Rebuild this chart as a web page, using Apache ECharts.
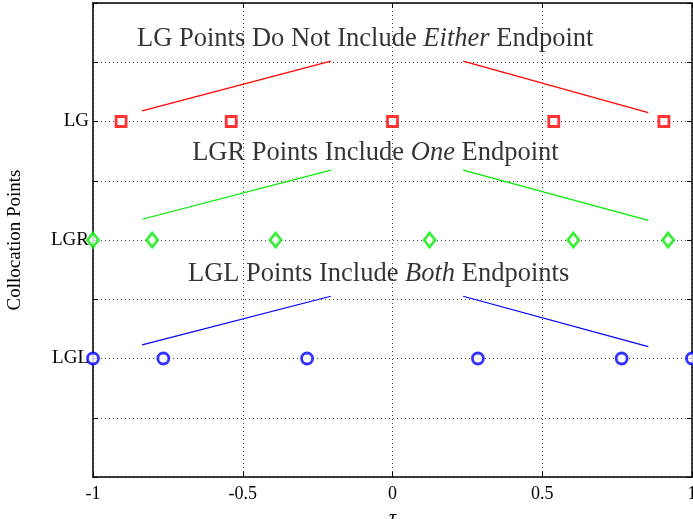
<!DOCTYPE html>
<html><head><meta charset="utf-8">
<script src="https://cdn.jsdelivr.net/npm/echarts@6/dist/echarts.min.js"></script>
<style>html,body{margin:0;padding:0;background:#fff}#c{width:693px;height:519px}</style>
</head><body><div id="c"></div>
<script>
const yTickLabels = {2:'LGL', 4:'LGR', 6:'LG'};
const lgX = [-0.9062, -0.5385, 0, 0.5385, 0.9062];
const lgY = 6;
const lgrX = [-1, -0.8023, -0.3903, 0.1240, 0.6039, 0.9203];
const lgrY = 4;
const lglX = [-1, -0.7651, -0.2852, 0.2852, 0.7651, 1];
const lglY = 2;
const lgLeftLine = [[-0.836, 6.18], [-0.206, 7.02]];
const lgRightLine = [[0.236, 7.02], [0.854, 6.15]];
const lgrLeftLine = [[-0.836, 4.35], [-0.206, 5.18]];
const lgrRightLine = [[0.236, 5.18], [0.854, 4.33]];
const lglLeftLine = [[-0.836, 2.23], [-0.206, 3.05]];
const lglRightLine = [[0.236, 3.05], [0.854, 2.2]];
const texts = [
  {x: -0.853, y: 7.39, pre: 'LG Points Do Not Include ', it: 'Either', post: ' Endpoint'},
  {x: -0.669, y: 5.46, pre: 'LGR Points Include ', it: 'One', post: ' Endpoint'},
  {x: -0.683, y: 3.43, pre: 'LGL Points Include ', it: 'Both', post: ' Endpoints'}
];
const F = '"Liberation Serif", "Times New Roman", serif';
const chart = echarts.init(document.getElementById('c'));
const dotted = {show:true, lineStyle:{color:'#444', type:[1,3], width:1}};
const axLine = {show:true, onZero:false, lineStyle:{color:'#000', width:1.5}};
const ticks = {show:true, inside:true, length:5, lineStyle:{color:'#000'}};
const lineS = (d, c) => ({type:'line', data:d, symbol:'none', lineStyle:{color:c, width:1.2}, silent:true, animation:false});
const ptS = (xs, y, sym, size, c) => ({type:'scatter', data: xs.map(x => [x, y]), symbol: sym, symbolSize: size,
  itemStyle:{color:'#fff', borderColor:c, borderWidth:2.8}, animation:false, z:5});
chart.setOption({
  animation:false,
  grid:{left:93, right:1, top:3, bottom:42, outerBoundsMode:'none', containLabel:false},
  xAxis:[{type:'value', min:-1, max:1, interval:0.5, position:'bottom',
    axisLine:axLine, axisTick:ticks,
    axisLabel:{color:'#000', fontFamily:F, fontSize:18, margin:8},
    splitLine:dotted,
    name:'τ', nameLocation:'middle', nameGap:32, nameTextStyle:{fontFamily:F, fontSize:20, fontStyle:'italic', color:'#000'}},
   {type:'value', min:-1, max:1, interval:0.5, position:'top',
    axisLine:axLine, axisTick:ticks, axisLabel:{show:false}, splitLine:{show:false}}],
  yAxis:[{type:'value', min:0, max:8, interval:1, position:'left',
    axisLine:axLine, axisTick:ticks,
    axisLabel:{color:'#000', fontFamily:F, fontSize:19, margin:4, formatter: v => yTickLabels[v] || ''},
    splitLine:dotted,
    name:'Collocation Points', nameLocation:'middle', nameGap:68, nameRotate:90,
    nameTextStyle:{fontFamily:F, fontSize:19, color:'#000'}},
   {type:'value', min:0, max:8, interval:1, position:'right',
    axisLine:axLine, axisTick:ticks, axisLabel:{show:false}, splitLine:{show:false}}],
  series:[
    lineS(lgLeftLine, '#ff0000'), lineS(lgRightLine, '#ff0000'),
    lineS(lgrLeftLine, '#00ee00'), lineS(lgrRightLine, '#00ee00'),
    lineS(lglLeftLine, '#0000ff'), lineS(lglRightLine, '#0000ff'),
    ptS(lgX, lgY, 'rect', 10, '#ff0000'),
    ptS(lgrX, lgrY, 'diamond', [11, 14], '#00ee00'),
    ptS(lglX, lglY, 'circle', 11, '#0000ff'),
    {type:'scatter', symbolSize:0, animation:false, silent:true,
     data: texts.map(t => ({value:[t.x, t.y], label:{show:true, position:'inside', align:'left', verticalAlign:'middle',
       formatter: '{n|' + t.pre + '}{i|' + t.it + '}{n|' + t.post + '}',
       rich:{n:{fontFamily:F, fontSize:26.5, color:'#000'}, i:{fontFamily:F, fontSize:26.5, fontStyle:'italic', color:'#000'}}}}))}
  ]
});
</script></body></html>
